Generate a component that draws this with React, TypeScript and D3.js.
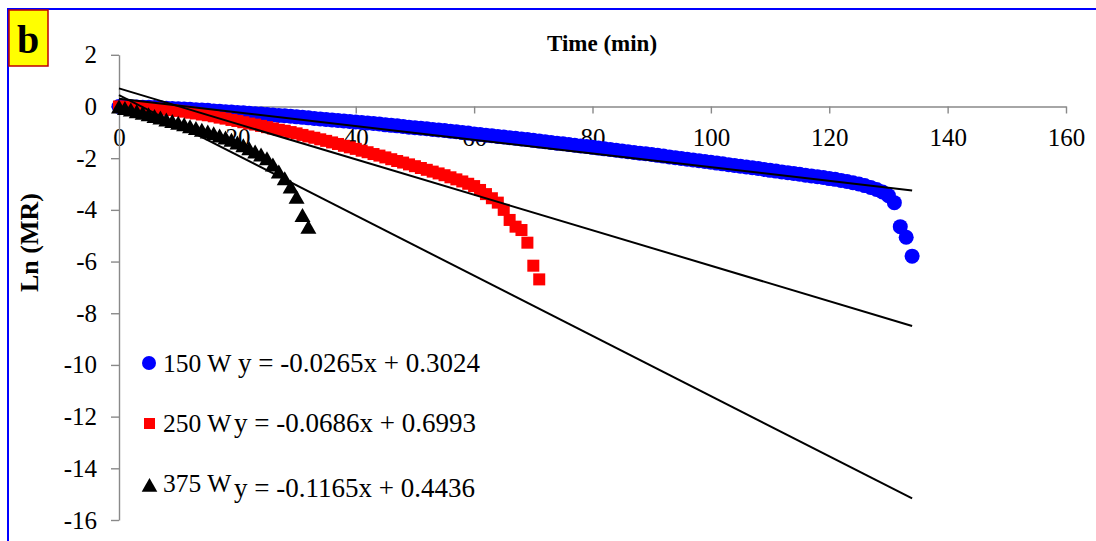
import React, { Component } from 'react';
import * as d3 from 'd3';

// ln(MR), one value per minute starting at t = 0
const lnMR150 = [
    0, -0.01, -0.01, -0.02, -0.03, -0.03, -0.04, -0.05, -0.07, -0.08,
    -0.09, -0.10, -0.11, -0.13, -0.14, -0.15, -0.17, -0.18, -0.20, -0.21,
    -0.23, -0.24, -0.26, -0.28, -0.29, -0.31, -0.33, -0.35, -0.36, -0.38,
    -0.40, -0.42, -0.44, -0.46, -0.48, -0.50, -0.52, -0.54, -0.56, -0.58,
    -0.60, -0.62, -0.64, -0.66, -0.68, -0.71, -0.73, -0.75, -0.77, -0.80,
    -0.82, -0.84, -0.86, -0.89, -0.91, -0.93, -0.96, -0.98, -1.01, -1.03,
    -1.06, -1.08, -1.11, -1.13, -1.16, -1.18, -1.21, -1.23, -1.26, -1.28,
    -1.31, -1.34, -1.36, -1.39, -1.42, -1.44, -1.47, -1.50, -1.53, -1.55,
    -1.58, -1.61, -1.64, -1.66, -1.69, -1.72, -1.75, -1.78, -1.81, -1.83,
    -1.86, -1.89, -1.92, -1.95, -1.98, -2.01, -2.04, -2.07, -2.10, -2.13,
    -2.16, -2.19, -2.22, -2.25, -2.28, -2.31, -2.34, -2.37, -2.40, -2.44,
    -2.47, -2.50, -2.53, -2.56, -2.59, -2.62, -2.66, -2.69, -2.72, -2.75,
    -2.79, -2.82, -2.86, -2.90, -2.95, -3.00, -3.06, -3.13, -3.21, -3.31,
    -3.45, -3.72, -4.65, -5.06, -5.79
];

const lnMR250 = [
    0, -0.01, -0.02, -0.03, -0.04, -0.05, -0.07, -0.09, -0.12, -0.14,
    -0.17, -0.20, -0.24, -0.27, -0.31, -0.34, -0.38, -0.43, -0.47, -0.52,
    -0.56, -0.61, -0.66, -0.70, -0.75, -0.80, -0.85, -0.90, -0.94, -0.99,
    -1.04, -1.10, -1.16, -1.21, -1.27, -1.33, -1.39, -1.45, -1.52, -1.58,
    -1.64, -1.71, -1.77, -1.84, -1.90, -1.97, -2.04, -2.11, -2.17, -2.24,
    -2.31, -2.38, -2.45, -2.52, -2.59, -2.66, -2.74, -2.82, -2.90, -2.99,
    -3.08, -3.23, -3.39, -3.55, -3.72, -4.00, -4.39, -4.65, -4.78, -5.27,
    -6.16, -6.69
];

const lnMR375 = [
    0, -0.06, -0.12, -0.18, -0.24, -0.30, -0.37, -0.43, -0.50, -0.56,
    -0.63, -0.69, -0.76, -0.83, -0.90, -0.97, -1.04, -1.12, -1.20, -1.29,
    -1.39, -1.50, -1.62, -1.74, -1.86, -2.00, -2.24, -2.52, -2.78, -3.10,
    -3.49, -4.20, -4.65
];

const powers = ['150 W', '250 W', '375 W'];
const slopes = [-0.0265, -0.0686, -0.1165];
const intercepts = [0.3024, 0.6993, 0.4436];
const equations = ['y = -0.0265x + 0.3024', 'y = -0.0686x + 0.6993', 'y = -0.1165x + 0.4436'];
const trendEnd = 134;

const xTicks = [0, 20, 40, 60, 80, 100, 120, 140, 160];
const yTicks = [2, 0, -2, -4, -6, -8, -10, -12, -14, -16];

const FONT = "'Times New Roman', 'Liberation Serif', serif";
const AXIS = '#898989';

class DryingChart extends Component {
    ref = React.createRef<SVGSVGElement>();

    componentDidMount() {
        this.draw();
    }

    draw() {
        const node = this.ref.current;
        let svg = d3.select(node);
        svg.selectAll('*').remove();

        svg.append('rect').attr('width', 1096).attr('height', 541).attr('fill', '#fff');
        // blue outer frame, right/bottom edges fall outside the picture
        svg.append('rect')
            .attr('x', 8).attr('y', 9).attr('width', 1100).attr('height', 560)
            .attr('fill', 'none').attr('stroke', '#0000ff').attr('stroke-width', 2);

        let x = d3.scaleLinear().domain([0, 160]).range([119, 1066]);
        let y = d3.scaleLinear().domain([-16, 2]).range([520, 54.8]);

        // plain hyphen for negatives, like the original
        const fmt = (d) => String(d);

        let xAxis = d3.axisBottom(x).tickValues(xTicks).tickSize(7).tickSizeOuter(0).tickFormat(fmt);
        let gx = svg.append('g')
            .attr('transform', `translate(0, ${y(0)})`)
            .call(xAxis)
            .attr('font-family', FONT).attr('font-size', 25);
        gx.select('.domain').attr('stroke', AXIS).attr('stroke-width', 1.4);
        gx.selectAll('line').attr('stroke', AXIS).attr('stroke-width', 1.4);
        gx.selectAll('text').attr('y', 40).attr('dy', null).attr('fill', '#000');

        let yAxis = d3.axisLeft(y).tickValues(yTicks).tickSize(8).tickSizeOuter(0).tickPadding(14).tickFormat(fmt);
        let gy = svg.append('g')
            .attr('transform', `translate(${x(0)}, 0)`)
            .call(yAxis)
            .attr('font-family', FONT).attr('font-size', 25);
        gy.select('.domain').attr('stroke', AXIS).attr('stroke-width', 1.4);
        gy.selectAll('line').attr('stroke', AXIS).attr('stroke-width', 1.4);
        gy.selectAll('text').attr('fill', '#000');

        // series: blue circles, red squares, black triangles
        svg.append('g').selectAll('circle')
            .data(lnMR150)
            .join('circle')
                .attr('cx', (d, i) => x(i))
                .attr('cy', (d) => y(d))
                .attr('r', 7.5)
                .attr('fill', '#0000ff');

        svg.append('g').selectAll('rect')
            .data(lnMR250)
            .join('rect')
                .attr('x', (d, i) => x(i) - 6)
                .attr('y', (d) => y(d) - 6)
                .attr('width', 12)
                .attr('height', 12)
                .attr('fill', '#ff0000');

        const tri = 'M0,-7L8,7L-8,7Z';
        svg.append('g').selectAll('path')
            .data(lnMR375)
            .join('path')
                .attr('d', tri)
                .attr('transform', (d, i) => `translate(${x(i)}, ${y(d)})`)
                .attr('fill', '#000');

        // linear trend lines
        svg.append('g').selectAll('line')
            .data(slopes)
            .join('line')
                .attr('x1', x(0))
                .attr('y1', (d, i) => y(intercepts[i]))
                .attr('x2', x(trendEnd))
                .attr('y2', (d, i) => y(d * trendEnd + intercepts[i]))
                .attr('stroke', '#000')
                .attr('stroke-width', 2);

        svg.append('text')
            .attr('x', 602).attr('y', 51)
            .attr('text-anchor', 'middle')
            .attr('font-family', FONT).attr('font-size', 23).attr('font-weight', 'bold')
            .text('Time (min)');

        svg.append('text')
            .attr('transform', 'translate(38, 242.5) rotate(-90)')
            .attr('text-anchor', 'middle')
            .attr('font-family', FONT).attr('font-size', 26).attr('font-weight', 'bold')
            .text('Ln (MR)');

        // panel letter
        svg.append('rect')
            .attr('x', 9).attr('y', 10).attr('width', 39).attr('height', 56)
            .attr('fill', '#ffff00').attr('stroke', '#c00000').attr('stroke-width', 1.5);
        svg.append('text')
            .attr('x', 28).attr('y', 53)
            .attr('text-anchor', 'middle')
            .attr('font-family', FONT).attr('font-size', 40).attr('font-weight', 'bold')
            .text('b');

        // legend + equations
        let lg = svg.append('g').attr('font-family', FONT);
        lg.append('circle').attr('cx', 149).attr('cy', 363).attr('r', 7).attr('fill', '#0000ff');
        lg.append('rect').attr('x', 144).attr('y', 418).attr('width', 11).attr('height', 11).attr('fill', '#ff0000');
        lg.append('path').attr('d', 'M149.5,478L157.3,491.7L141.7,491.7Z').attr('fill', '#000');

        const rowY = [372, 432, 492];
        const eqY = [372, 432, 497];
        lg.selectAll('text.power')
            .data(powers)
            .join('text')
                .attr('class', 'power')
                .attr('x', 163)
                .attr('y', (d, i) => rowY[i])
                .attr('font-size', 25.5)
                .text((d) => d);
        lg.selectAll('text.eq')
            .data(equations)
            .join('text')
                .attr('class', 'eq')
                .attr('x', (d, i) => (i === 0 ? 238 : 234))
                .attr('y', (d, i) => eqY[i])
                .attr('font-size', 27)
                .text((d) => d);
    }

    render() {
        return (
            <svg ref={this.ref} width={1096} height={541} style={{ position: 'absolute', left: 0, top: 0 }}></svg>
        );
    }
}

export default function App() {
    return <DryingChart />;
}
